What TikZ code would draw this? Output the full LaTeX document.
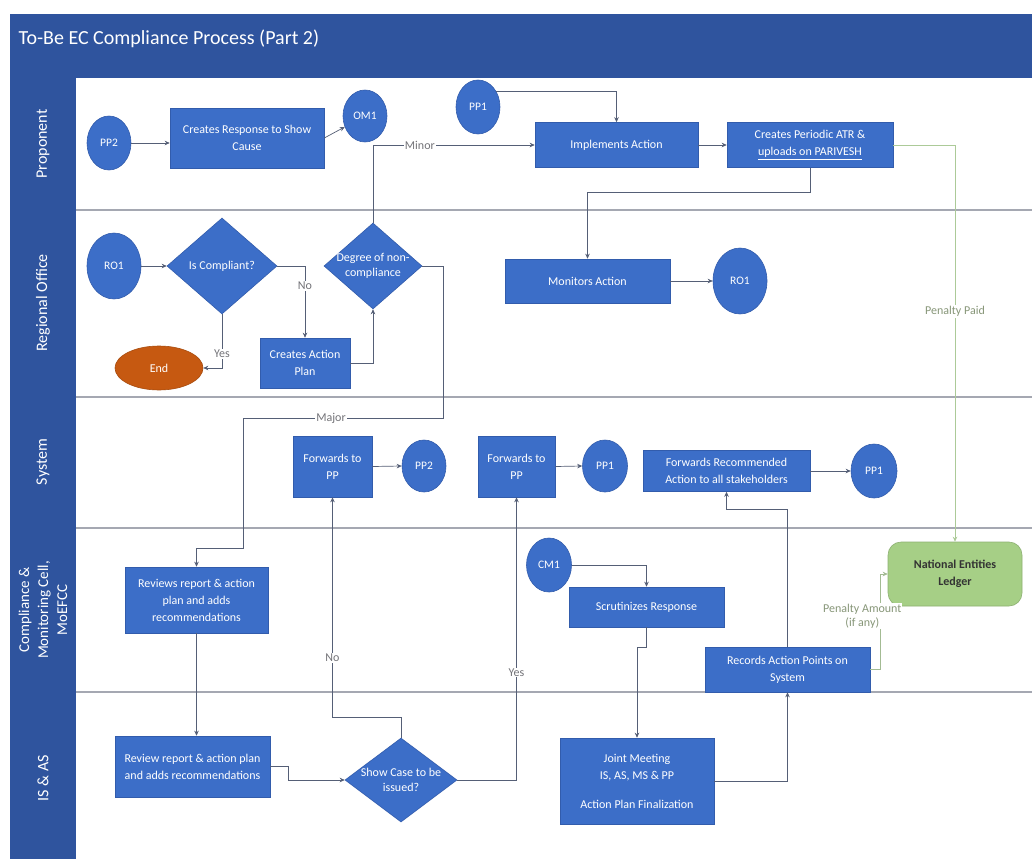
\documentclass[tikz,border=0pt]{standalone}
\usepackage{fontspec}
\setmainfont{Carlito}
\usetikzlibrary{shapes.geometric,arrows.meta,calc}

\definecolor{hdrblue}{RGB}{47,84,158}
\definecolor{boxblue}{RGB}{60,110,200}
\definecolor{boxedge}{RGB}{50,92,172}
\definecolor{lanegray}{RGB}{165,168,178}
\definecolor{wire}{RGB}{85,95,118}
\definecolor{endorange}{RGB}{198,89,17}
\definecolor{ledgergreen}{RGB}{166,207,134}
\definecolor{paidgreen}{RGB}{172,202,152}
\definecolor{lbltext}{RGB}{115,115,120}
\definecolor{greenlbl}{RGB}{135,150,120}

\begin{document}
\begin{tikzpicture}[x=1pt,y=-1pt,
  box/.style={rectangle, fill=boxblue, draw=boxedge, line width=0.6pt, text=white,
    font=\fontsize{12}{17}\selectfont, align=center, inner sep=2pt},
  circ/.style={ellipse, fill=boxblue, draw=boxedge, line width=0.6pt, text=white,
    font=\fontsize{11.5}{13}\selectfont, inner sep=0pt},
  dia/.style={diamond, fill=boxblue, draw=boxedge, line width=0.6pt, inner sep=0pt},
  diatext/.style={text=white, font=\fontsize{12}{15}\selectfont, align=center, inner sep=0pt},
  term/.style={ellipse, fill=endorange, draw=endorange!85!black, line width=0.6pt, text=white,
    font=\fontsize{12}{14}\selectfont, inner sep=0pt},
  ledgerbox/.style={rectangle, rounded corners=13pt, fill=ledgergreen, draw=ledgergreen!85!black,
    line width=0.6pt, text=black!80, font=\bfseries\fontsize{12}{17}\selectfont, align=center},
  lanetitle/.style={rotate=90, text=white, font=\fontsize{16}{19}\selectfont, align=center},
  laneline/.style={draw=lanegray, line width=2.2pt},
  conn/.style={draw=wire, line width=0.7pt, -{Stealth[length=5pt,width=4.5pt]}},
  paid/.style={draw=paidgreen, line width=1pt, -{Stealth[length=5pt,width=4.5pt]}},
  lbl/.style={fill=white, text=lbltext, font=\fontsize{12}{14}\selectfont, inner sep=1pt, align=center},
  glbl/.style={fill=white, text=greenlbl, font=\fontsize{12}{14}\selectfont, inner sep=1pt, align=center}
]
\useasboundingbox (0,0) rectangle (1032,859);
\fill[white] (0,0) rectangle (1032,859);

% frame: title band, lane title column, lane area
\fill[hdrblue] (10,14) rectangle (1032,859);
\fill[white] (76,78) rectangle (1032,859);
\node[anchor=west, text=white, font=\fontsize{20}{24}\selectfont] (title) at (15,39)
  {To-Be EC Compliance Process (Part 2)};

% lane separators
\draw[laneline] (76,210) -- (1032,210);
\draw[laneline] (76,397) -- (1032,397);
\draw[laneline] (76,528) -- (1032,528);
\draw[laneline] (76,692) -- (1032,692);

% lane titles
\node[lanetitle] (lnprop) at (43,144) {Proponent};
\node[lanetitle] (lnro) at (43,303) {Regional Office};
\node[lanetitle] (lnsys) at (43,462) {System};
\node[lanetitle, font=\fontsize{15}{19}\selectfont] (lncmc) at (43,610) {Compliance \&\\Monitoring Cell,\\MoEFCC};
\node[lanetitle] (lnis) at (43,778) {IS \& AS};

% ---- Proponent
\node[circ, minimum width=44pt, minimum height=54pt] (pp2a) at (109,143) {PP2};
\node[box, minimum width=154pt, minimum height=60pt] (resp) at (247,138) {Creates Response to Show\\Cause};
\node[circ, minimum width=44pt, minimum height=52pt] (om1) at (365,116) {OM1};
\node[circ, minimum width=44pt, minimum height=54pt] (pp1a) at (478,107) {PP1};
\node[box, minimum width=163pt, minimum height=45pt] (impl) at (616.5,145) {Implements Action};
\node[box, minimum width=166pt, minimum height=45pt] (atr) at (810,145)
  {Creates Periodic ATR \&\\\underline{uploads on PARIVESH}};

% ---- Regional Office
\node[circ, minimum width=54pt, minimum height=66pt] (ro1a) at (114,266) {RO1};
\node[dia, minimum width=110pt, minimum height=96pt,
  label={[diatext]center:Is Compliant?}] (isc) at (222,266) {};
\node[dia, minimum width=98pt, minimum height=86pt,
  label={[diatext]center:Degree of non-\\compliance}] (deg) at (373,266) {};
\node[term, minimum width=88pt, minimum height=44pt] (endn) at (159,368) {End};
\node[box, minimum width=90pt, minimum height=50pt] (cap) at (305,363) {Creates Action\\Plan};
\node[box, minimum width=165pt, minimum height=44pt] (mon) at (587.5,281) {Monitors Action};
\node[circ, minimum width=54pt, minimum height=66pt] (ro1b) at (740,281) {RO1};

% ---- System
\node[box, minimum width=79pt, minimum height=61pt] (fwd1) at (332.5,466.5) {Forwards to\\PP};
\node[circ, minimum width=44pt, minimum height=52pt] (pp2b) at (424,466) {PP2};
\node[box, minimum width=77pt, minimum height=61pt] (fwd2) at (516.5,466.5) {Forwards to\\PP};
\node[circ, minimum width=45pt, minimum height=52pt] (pp1c) at (605,466) {PP1};
\node[box, minimum width=167pt, minimum height=41pt] (fwdrec) at (726.5,471)
  {Forwards Recommended\\Action to all stakeholders};
\node[circ, minimum width=46pt, minimum height=54pt] (pp1b) at (874,471) {PP1};

% ---- Compliance & Monitoring Cell
\node[box, minimum width=143pt, minimum height=66pt] (rev1) at (196.5,600)
  {Reviews report \& action\\plan and adds\\recommendations};
\node[circ, minimum width=45pt, minimum height=54pt] (cm1) at (549,565) {CM1};
\node[box, minimum width=155pt, minimum height=40pt] (scr) at (646.5,607) {Scrutinizes Response};
\node[box, minimum width=165pt, minimum height=45pt] (rec) at (787.5,669.5)
  {Records Action Points on\\System};
\node[ledgerbox, minimum width=134pt, minimum height=64pt] (ledger) at (955,574)
  {National Entities\\Ledger};

% ---- IS & AS
\node[box, minimum width=155pt, minimum height=61pt] (rev2) at (192.5,766.5)
  {Review report \& action plan\\and adds recommendations};
\node[dia, minimum width=112pt, minimum height=84pt,
  label={[diatext]center:Show Case to be\\issued?}] (show) at (401,780) {};
\node[box, minimum width=154pt, minimum height=86pt] (joint) at (637,781)
  {Joint Meeting\\IS, AS, MS \& PP\\[12pt]Action Plan Finalization};

% bends of the major non-compliance route
\coordinate (mj1) at (443,418);
\coordinate (mj2) at (243,548);

% ---- connectors
\draw[conn] (pp2a.east) -- (pp2a.east -| resp.west);
\draw[conn] (resp.east) -- (om1);
\draw[conn] (pp1a.40) -| (impl.north);
\draw[conn] (impl.east) -- (atr.west);
\draw[conn] (atr.south) -- ++(0,25) -| (mon.north);
\draw[conn] (mon.east) -- (ro1b.west);
\draw[paid] (atr.east) -| node[glbl, pos=0.71] {Penalty Paid} (ledger.north);

\draw[conn] (ro1a.east) -- (isc.west);
\draw[conn] (isc.east) -| node[lbl, pos=0.64] {No} (cap.north);
\draw[conn] (isc.south) |- node[lbl, pos=0.37] {Yes} (endn.east);
\draw[conn] (cap.east) -| (deg.south);
\draw[conn] (deg.north) |- node[lbl, pos=0.645] {Minor} (impl.west);
\draw[conn] (deg.east) -| (mj1) -| node[lbl, pos=0.28] {Major} (mj2) -| (rev1.north);

\draw[conn] (rev1.south) -- (rev1.south |- rev2.north);
\draw[conn] (rev2.east) -- ++(18,0) |- (show.west);
\draw[conn] (show.north) -- ++(0,-20) -| node[lbl, pos=0.636] {No} (fwd1.south);
\draw[conn] (show.east) -| node[lbl, pos=0.69] {Yes} (fwd2.south);

\draw[conn] (fwd1.east) -- (pp2b.west);
\draw[conn] (fwd2.east) -- (pp1c.west);
\draw[conn] (fwdrec.east) -- (pp1b.west);

\draw[conn] (cm1.east) -| (scr.north);
\draw[conn] (scr.south) -- ++(0,20) -| (joint.north);
\draw[conn] (joint.east) -| (rec.south);
\draw[conn] (rec.north) -- ++(0,-137) -| (fwdrec.south);
\draw[conn, draw=paidgreen!80!gray] (rec.east) -- ++(10,0) |- node[glbl, pos=0.28, xshift=-18pt] {Penalty Amount\\(if any)} (ledger.west);
\end{tikzpicture}
\end{document}
